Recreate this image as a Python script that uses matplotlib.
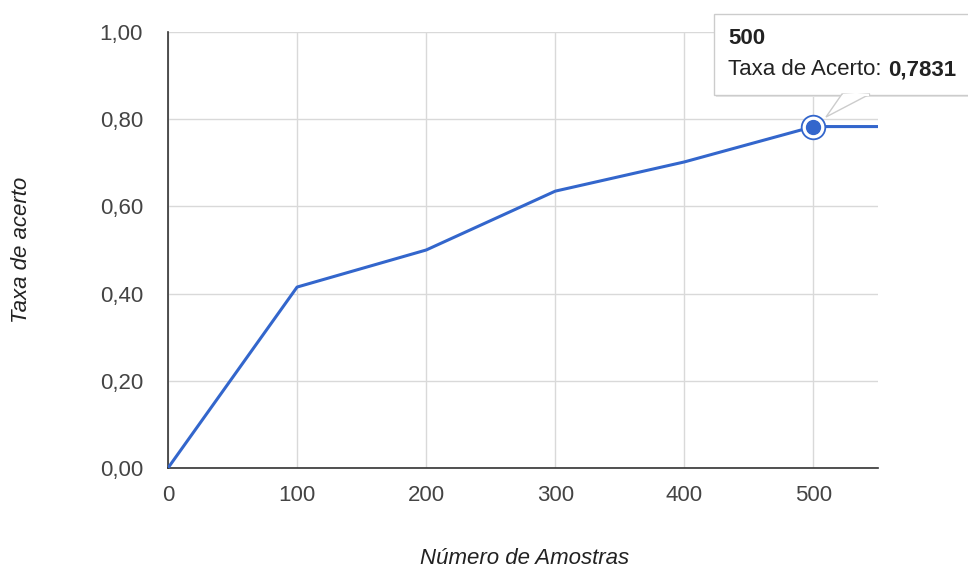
import matplotlib
matplotlib.use("Agg")
import matplotlib.pyplot as plt
from matplotlib.patches import Polygon, Rectangle

# -------------------------------------------------
# Data
# -------------------------------------------------
amostras = [0, 100, 200, 300, 400, 500, 600]
taxa = [0.0, 0.415, 0.50, 0.635, 0.702, 0.7831, 0.7831]
x_ticks = [0, 100, 200, 300, 400, 500]
y_ticks = [0.0, 0.2, 0.4, 0.6, 0.8, 1.0]
destaque = 5  # ponto com tooltip

plt.rcParams["font.family"] = ["Liberation Sans", "DejaVu Sans"]
FS = 16

W, H = 968, 568
fig = plt.figure(figsize=(W / 100, H / 100), dpi=100)
ax = fig.add_axes([168 / W, (H - 468) / H, (878 - 168) / W, (468 - 32) / H])


def px(x, y):
    # pixel (from top-left) -> figure fraction
    return x / W, 1 - y / H


# -------------------------------------------------
# Line
# -------------------------------------------------
azul = "#3366cc"
ax.plot(amostras, taxa, color=azul, lw=2.2, solid_capstyle="butt", zorder=3)
ax.plot(amostras[destaque], taxa[destaque], "o", ms=17, mfc="white",
        mec=azul, mew=1.3, zorder=4, clip_on=False)
ax.plot(amostras[destaque], taxa[destaque], "o", ms=10, mfc=azul,
        mec=azul, zorder=5, clip_on=False)

ax.set_xlim(0, 550)
ax.set_ylim(0, 1.0)
ax.set_xticks(x_ticks)
ax.set_yticks(y_ticks)
ax.set_yticklabels([f"{v:.2f}".replace(".", ",") for v in y_ticks])
ax.grid(True, color="#d9d9d9", lw=1.0)
ax.set_axisbelow(True)

for s in ["top", "right"]:
    ax.spines[s].set_visible(False)
for s in ["left", "bottom"]:
    ax.spines[s].set_color("#333333")
    ax.spines[s].set_linewidth(1.2)
ax.tick_params(length=0, labelsize=FS, labelcolor="#444444", pad=12)
ax.tick_params(axis="y", pad=18)

fig.text(*px(525, 558), "Número de Amostras", ha="center", va="center",
         fontsize=FS, style="italic", color="#222222")
fig.text(*px(22, 250), "Taxa de acerto", ha="center", va="center",
         fontsize=FS, style="italic", color="#222222", rotation=90)

# -------------------------------------------------
# Tooltip
# -------------------------------------------------
x0, y0 = px(714, 95)
x1, y1 = px(975, 14)
shadow = Rectangle((x0 + 1.5 / W, y0 - 2 / H), x1 - x0, y1 - y0,
                   transform=fig.transFigure, fc="#e6e6e6", ec="none", zorder=8)
box = Rectangle((x0, y0), x1 - x0, y1 - y0, transform=fig.transFigure,
                fc="white", ec="#cccccc", lw=1, zorder=9)
fig.patches.extend([shadow, box])
tri = Polygon([px(842, 94), px(826, 117), px(870, 94)], closed=True,
              transform=fig.transFigure, fc="white", ec="#cccccc", lw=1, zorder=9)
cover = Polygon([px(843, 95), px(869, 95), px(856, 94)], closed=True,
                transform=fig.transFigure, fc="white", ec="white", lw=1.5, zorder=10)
fig.patches.extend([tri, cover])

fig.text(*px(728, 38), str(amostras[destaque]), ha="left", va="center",
         fontsize=FS, fontweight="bold", color="#222222", zorder=11)
lab = fig.text(*px(728, 70), "Taxa de Acerto:", ha="left", va="center",
               fontsize=FS, color="#222222", zorder=11)
fig.canvas.draw()
bb = lab.get_window_extent()
val = f"{taxa[destaque]:.4f}".replace(".", ",")
fig.text((bb.x1 + 7) / W, px(0, 70)[1], val, ha="left", va="center",
         fontsize=FS, fontweight="bold", color="#222222", zorder=11)

fig.savefig("out.png", dpi=100)
